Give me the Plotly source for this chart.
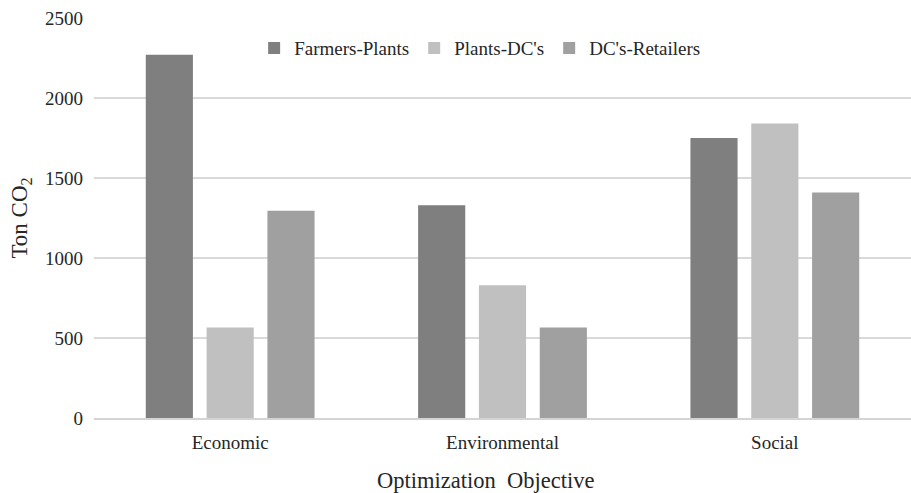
import plotly.graph_objects as go

# Optimization objectives on the x axis
objectives = ["Economic", "Environmental", "Social"]

# CO2 emissions (ton) per supply-chain link
farmers_plants = [2270, 1330, 1750]
plants_dcs = [565, 830, 1840]
dcs_retailers = [1295, 565, 1410]

series_names = ["Farmers-Plants", "Plants-DC's", "DC's-Retailers"]
series_colors = ["#7f7f7f", "#c0c0c0", "#a0a0a0"]
y_ticks = [0, 500, 1000, 1500, 2000, 2500]

FONT = "Liberation Serif"
TXT = "#262626"

fig = go.Figure()
for name, vals, col in zip(series_names, [farmers_plants, plants_dcs, dcs_retailers], series_colors):
    fig.add_trace(go.Bar(
        x=objectives, y=vals, name=name,
        marker=dict(color=col, line=dict(color=col, width=0)),
    ))

fig.update_layout(
    width=911, height=493,
    margin=dict(l=94, r=0, t=18, b=75),
    paper_bgcolor="white", plot_bgcolor="white",
    font=dict(family=FONT, size=19, color=TXT),
    barmode="group", bargap=0.33, bargroupgap=0.225,
    legend=dict(
        orientation="h", x=0.196, y=0.972, xanchor="left", yanchor="top",
        font=dict(family=FONT, size=19, color=TXT),
        bgcolor="rgba(0,0,0,0)", itemsizing="constant",
        traceorder="normal",
    ),
    xaxis=dict(
        showgrid=False, showline=True, linecolor="#d4d4d4", linewidth=2,
        ticks="", ticklabelstandoff=6,
        tickfont=dict(family=FONT, size=19, color=TXT),
    ),
    yaxis=dict(
        title=dict(text="Ton CO<sub>2</sub>", font=dict(family=FONT, size=23, color=TXT), standoff=10),
        range=[0, 2500], tickvals=y_ticks,
        showgrid=True, gridcolor="#d9d9d9", gridwidth=1.5,
        zeroline=False, showline=False, ticks="",
        ticklabelstandoff=10,
        tickfont=dict(family=FONT, size=19, color=TXT),
    ),
    annotations=[dict(
        text="Optimization  Objective", xref="paper", yref="paper",
        x=0.4786, y=-0.155, xanchor="center", yanchor="middle",
        showarrow=False, font=dict(family=FONT, size=22.5, color=TXT),
    )],
)

fig.write_html("out.html")
